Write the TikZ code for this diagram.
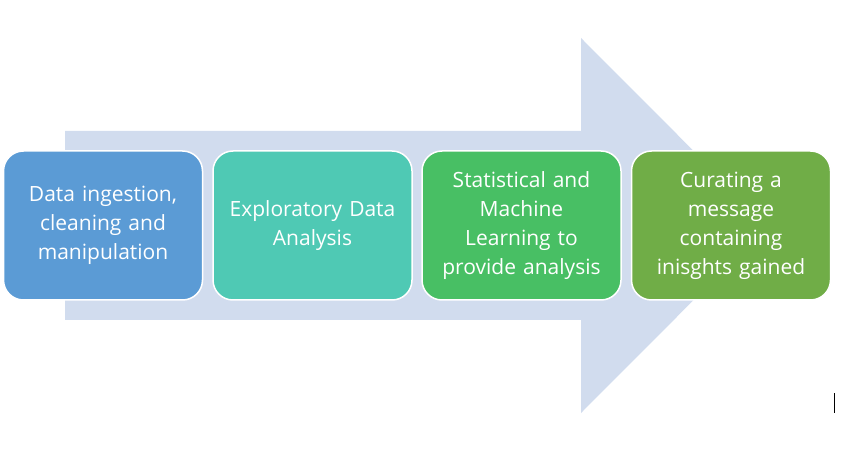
\documentclass[tikz,border=0pt]{standalone}
\usepackage{fontspec}
\setmainfont{Open Sans}
\begin{document}
\begin{tikzpicture}[x=1pt,y=-1pt,
  stage/.style={draw=white,line width=1.5pt,rounded corners=20pt,minimum width=199pt,minimum height=149pt,
    text=white,align=center,font=\fontsize{21}{29}\selectfont,inner sep=0pt,text width=196pt},
]
\definecolor{arrowc}{HTML}{D1DCEE}
\definecolor{c1}{HTML}{5B9BD5}
\definecolor{c2}{HTML}{4FC9B4}
\definecolor{c3}{HTML}{48BF64}
\definecolor{c4}{HTML}{70AD47}
\useasboundingbox (0,0) rectangle (844,449);
\fill[arrowc] (65,131) -- (581,131) -- (581,38) -- (768,225.5) -- (581,413) -- (581,320) -- (65,320) -- cycle;
\node[stage,fill=c1] (s1) at (103,225.5) {Data ingestion,\\cleaning and\\manipulation};
\node[stage,fill=c2] (s2) at (312.5,225.5) {Exploratory Data\\Analysis};
\node[stage,fill=c3] (s3) at (521.5,225.5) {Statistical and\\Machine\\Learning to\\provide analysis};
\node[stage,fill=c4] (s4) at (731,225.5) {Curating a\\message\\containing\\inisghts gained};
\draw[black,line width=1pt] (834,393) -- (834,413);
\end{tikzpicture}
\end{document}
